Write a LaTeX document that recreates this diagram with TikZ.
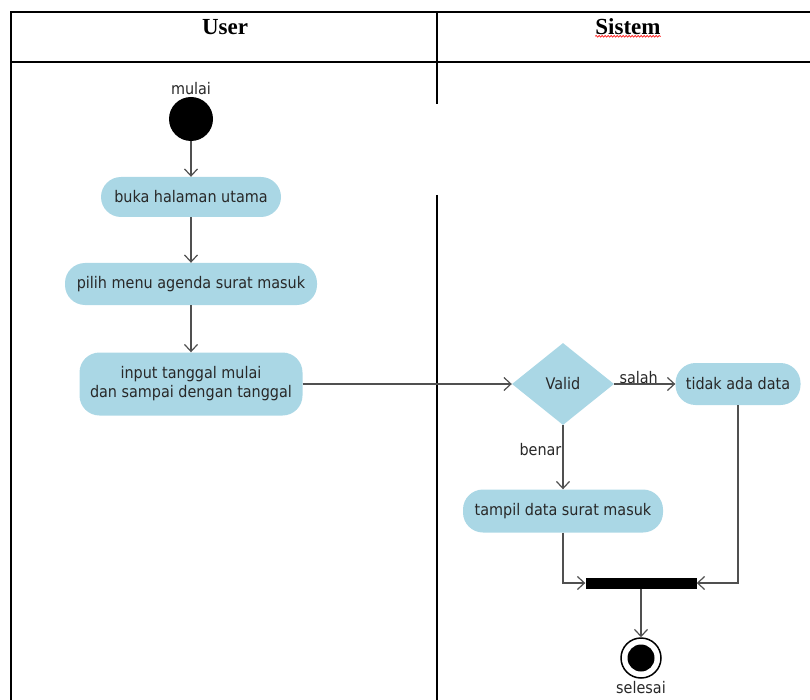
\documentclass[tikz,border=0pt]{standalone}
\usepackage{fontspec}
\setmainfont{DejaVu Sans Condensed}
\newfontfamily\headfont{Liberation Serif}
\usetikzlibrary{arrows.meta,shapes.geometric,decorations.pathmorphing}

\definecolor{actblue}{RGB}{170,215,229}
\definecolor{txtgray}{RGB}{40,40,40}
\definecolor{linegray}{RGB}{80,80,80}

\begin{document}
\begin{tikzpicture}[x=1pt,y=-1pt,
  act/.style={rectangle, rounded corners=20pt, fill=actblue, text=txtgray,
    font=\fontsize{16}{19}\selectfont, inner sep=0pt, align=center},
  decision/.style={diamond, fill=actblue, text=txtgray, inner sep=0pt,
    font=\fontsize{16}{19}\selectfont, minimum width=102pt, minimum height=82pt},
  flow/.style={draw=linegray, line width=1.2pt, -{Straight Barb[length=7pt,width=13pt]}},
  grid/.style={draw=black, line width=1.4pt},
  lbl/.style={text=txtgray, font=\fontsize{16}{19}\selectfont, inner sep=0pt},
  head/.style={font=\headfont\bfseries\fontsize{23}{26}\selectfont, inner sep=0pt}]

\useasboundingbox (0,0) rectangle (810,700);

% swimlane table
\draw[grid] (11,702) -- (11,12) -- (812,12);
\draw[grid] (11,62) -- (812,62);
\draw[grid] (437,12) -- (437,104);
\draw[grid] (437,195) -- (437,702);
\node[head] (huser) at (225,27) {User};
\node[head] (hsys) at (628,27) {Sistem};
\draw[red, line width=0.6pt, decorate,
  decoration={snake, amplitude=0.9pt, segment length=3pt}]
  ([yshift=-1pt]hsys.south west) -- ([yshift=-1pt]hsys.south east);

% start
\node[lbl] (lmulai) at (191,89) {mulai};
\node[circle, fill=black, minimum size=44pt, inner sep=0pt] (start) at (191,119) {};

% actions
\node[act, minimum width=180pt, minimum height=40pt] (buka) at (191,197) {buka halaman utama};
\node[act, minimum width=252pt, minimum height=42pt] (pilih) at (191,284) {pilih menu agenda surat masuk};
\node[act, minimum width=223pt, minimum height=63pt] (input) at (191,384)
  {input tanggal mulai\\dan sampai dengan tanggal};
\node[decision] (valid) at (563,384) {Valid};
\node[act, minimum width=125pt, minimum height=42pt] (tidak) at (738,384) {tidak ada data};
\node[act, minimum width=200pt, minimum height=43pt] (tampil) at (563,511) {tampil data surat masuk};

% join bar and end
\node[rectangle, fill=black, minimum width=111pt, minimum height=11pt, inner sep=0pt] (bar) at (641,583) {};
\node[circle, draw=black, line width=1.5pt, fill=white, minimum size=40pt, inner sep=0pt] (stop) at (641,658) {};
\node[circle, fill=black, minimum size=27pt, inner sep=0pt] (stopin) at (stop) {};
\node[lbl] (lselesai) at (641,688) {selesai};

% flows
\draw[flow] (start) -- (buka);
\draw[flow] (buka) -- (pilih);
\draw[flow] (pilih) -- (input);
\draw[flow] (input) -- (valid);
\draw[flow] (valid) -- node[lbl, above=0pt, pos=0.4] (lsalah) {salah} (tidak);
\draw[flow] (valid.south) -- node[lbl, left=1pt, pos=0.38] (lbenar) {benar} (tampil.north);
\draw[flow] (tampil.south) |- (bar.west);
\draw[flow] (tidak.south) |- (bar.east);
\draw[flow] (bar) -- (stop);

\end{tikzpicture}
\end{document}
